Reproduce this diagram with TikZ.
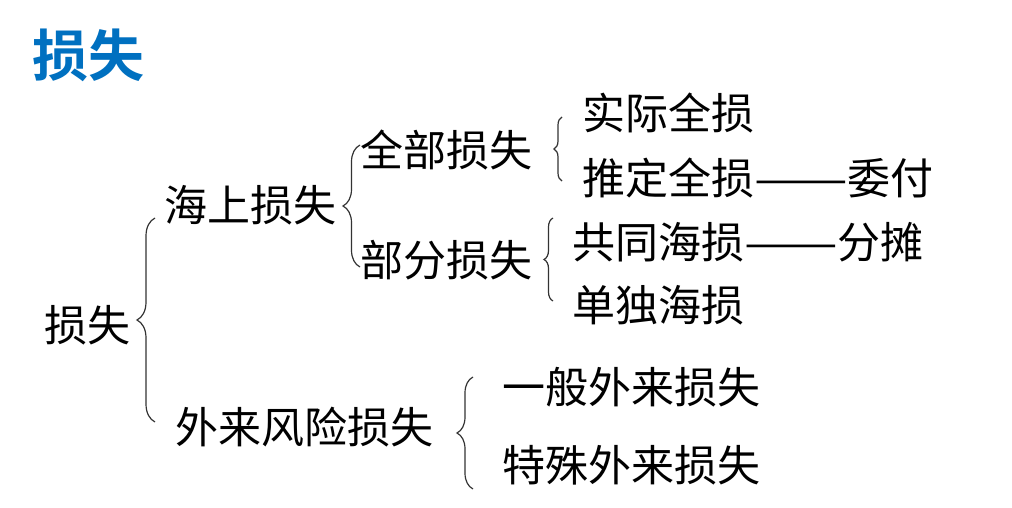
\documentclass[tikz,border=0pt]{standalone}
\usepackage{fontspec}
\usepackage{graphicx}
\usetikzlibrary{decorations.pathreplacing}
\newfontfamily\cjk{Noto Sans CJK SC}
\newfontfamily\cjkbold{Noto Sans CJK SC Bold}
\definecolor{titleblue}{HTML}{0070C0}
\newcommand{\longdash}{\scalebox{1.3}[1]{——}}
\tikzset{
  lbl/.style={anchor=west, inner sep=0pt, font=\cjk\fontsize{43}{43}\selectfont},
  ttl/.style={anchor=west, inner sep=0pt, text=titleblue, font=\cjkbold\fontsize{56}{56}\selectfont},
  brc/.style={draw=black!80, line width=1.2pt, decorate, decoration={brace, amplitude=#1}},
}
\begin{document}
\begin{tikzpicture}[x=1pt, y=-1pt]
\useasboundingbox (0,0) rectangle (1012,508);
\node[ttl] (title) at (32,55) {损失};
\node[lbl] (root) at (44,325) {损失};
\node[lbl] (sea) at (164,205) {海上损失};
\node[lbl] (ext) at (175,427) {外来风险损失};
\node[lbl] (total) at (360,150) {全部损失};
\node[lbl] (partial) at (360,260) {部分损失};
\node[lbl] (actual) at (582,113) {实际全损};
\node[lbl] (constr) at (582,178) {推定全损\longdash 委付};
\node[lbl] (general) at (572,242) {共同海损\longdash 分摊};
\node[lbl] (particular) at (572,305) {单独海损};
\node[lbl] (ordinary) at (502,387) {一般外来损失};
\node[lbl] (special) at (502,465) {特殊外来损失};
\draw[brc=18pt] (155,422) -- (155,218);
\draw[brc=17pt] (360,267) -- (360,145);
\draw[brc=8pt] (562,181) -- (562,117);
\draw[brc=9pt] (553,301) -- (553,218);
\draw[brc=16pt] (473,489) -- (473,377);
\end{tikzpicture}
\end{document}
